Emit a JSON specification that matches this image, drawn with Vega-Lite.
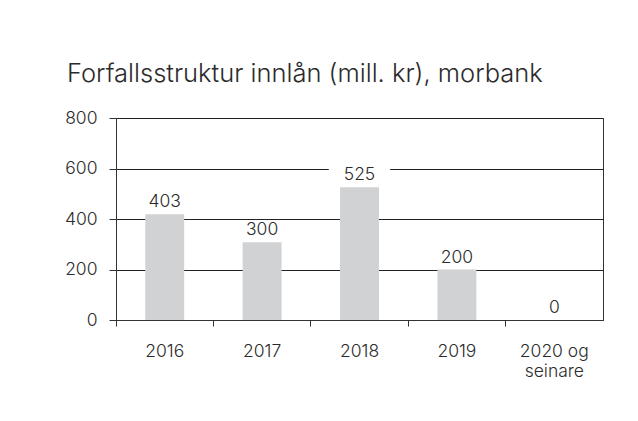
{
  "$schema": "https://vega.github.io/schema/vega-lite/v6.json",
  "width": 487,
  "height": 202,
  "autosize": {"type": "none"},
  "padding": {"left": 116, "top": 118, "right": 35, "bottom": 101},
  "background": "white",
  "title": {
    "text": "Forfallsstruktur innlån (mill. kr), morbank",
    "anchor": "start",
    "frame": "group",
    "dx": -49,
    "offset": 22,
    "font": "Inter",
    "fontSize": 25.5,
    "fontWeight": 300,
    "color": "#2b2b2b"
  },
  "data": {
    "values": [
      {"periode": "2016", "bar": 419, "label": "403"},
      {"periode": "2017", "bar": 308, "label": "300"},
      {"periode": "2018", "bar": 526, "label": "525"},
      {"periode": "2019", "bar": 200, "label": "200"},
      {"periode": "2020 og seinare", "bar": 0, "label": "0"}
    ]
  },
  "config": {
    "view": {"stroke": "#333333", "strokeWidth": 1},
    "font": "Inter"
  },
  "encoding": {
    "x": {
      "field": "periode",
      "type": "nominal",
      "sort": null,
      "scale": {"paddingInner": 0, "paddingOuter": 0},
      "axis": {
        "title": null,
        "labelAngle": 0,
        "bandPosition": 0,
        "labelFont": "Inter",
        "labelFontSize": 17.5,
        "labelFontWeight": 300,
        "labelColor": "#2b2b2b",
        "labelPadding": 16,
        "labelLineHeight": 20,
        "labelExpr": "datum.value == '2020 og seinare' ? ['2020 og', 'seinare'] : datum.label",
        "domainColor": "#333333",
        "tickColor": "#333333",
        "tickSize": 6,
        "grid": false
      }
    }
  },
  "layer": [
    {
      "mark": {"type": "bar", "color": "#d1d2d4", "width": {"band": 0.4}},
      "encoding": {
        "y": {
          "field": "bar",
          "type": "quantitative",
          "scale": {"domain": [0, 800]},
          "axis": {
            "title": null,
            "values": [0, 200, 400, 600, 800],
            "labelFont": "Inter",
            "labelFontSize": 17.5,
            "labelFontWeight": 300,
            "labelColor": "#2b2b2b",
            "labelPadding": 12,
            "tickSize": 7,
            "tickColor": "#333333",
            "domainColor": "#333333",
            "gridColor": "#222222",
            "gridOpacity": 1
          }
        }
      }
    },
    {
      "mark": {"type": "bar", "color": "white", "width": {"band": 0.63}, "yOffset": -20, "y2Offset": -3},
      "encoding": {
        "y": {"field": "bar", "type": "quantitative"},
        "y2": {"field": "bar"}
      }
    },
    {
      "mark": {"type": "text", "dy": -12, "font": "Inter", "fontSize": 17.5, "fontWeight": 300, "color": "#2b2b2b"},
      "encoding": {
        "y": {"field": "bar", "type": "quantitative"},
        "text": {"field": "label"}
      }
    }
  ]
}
